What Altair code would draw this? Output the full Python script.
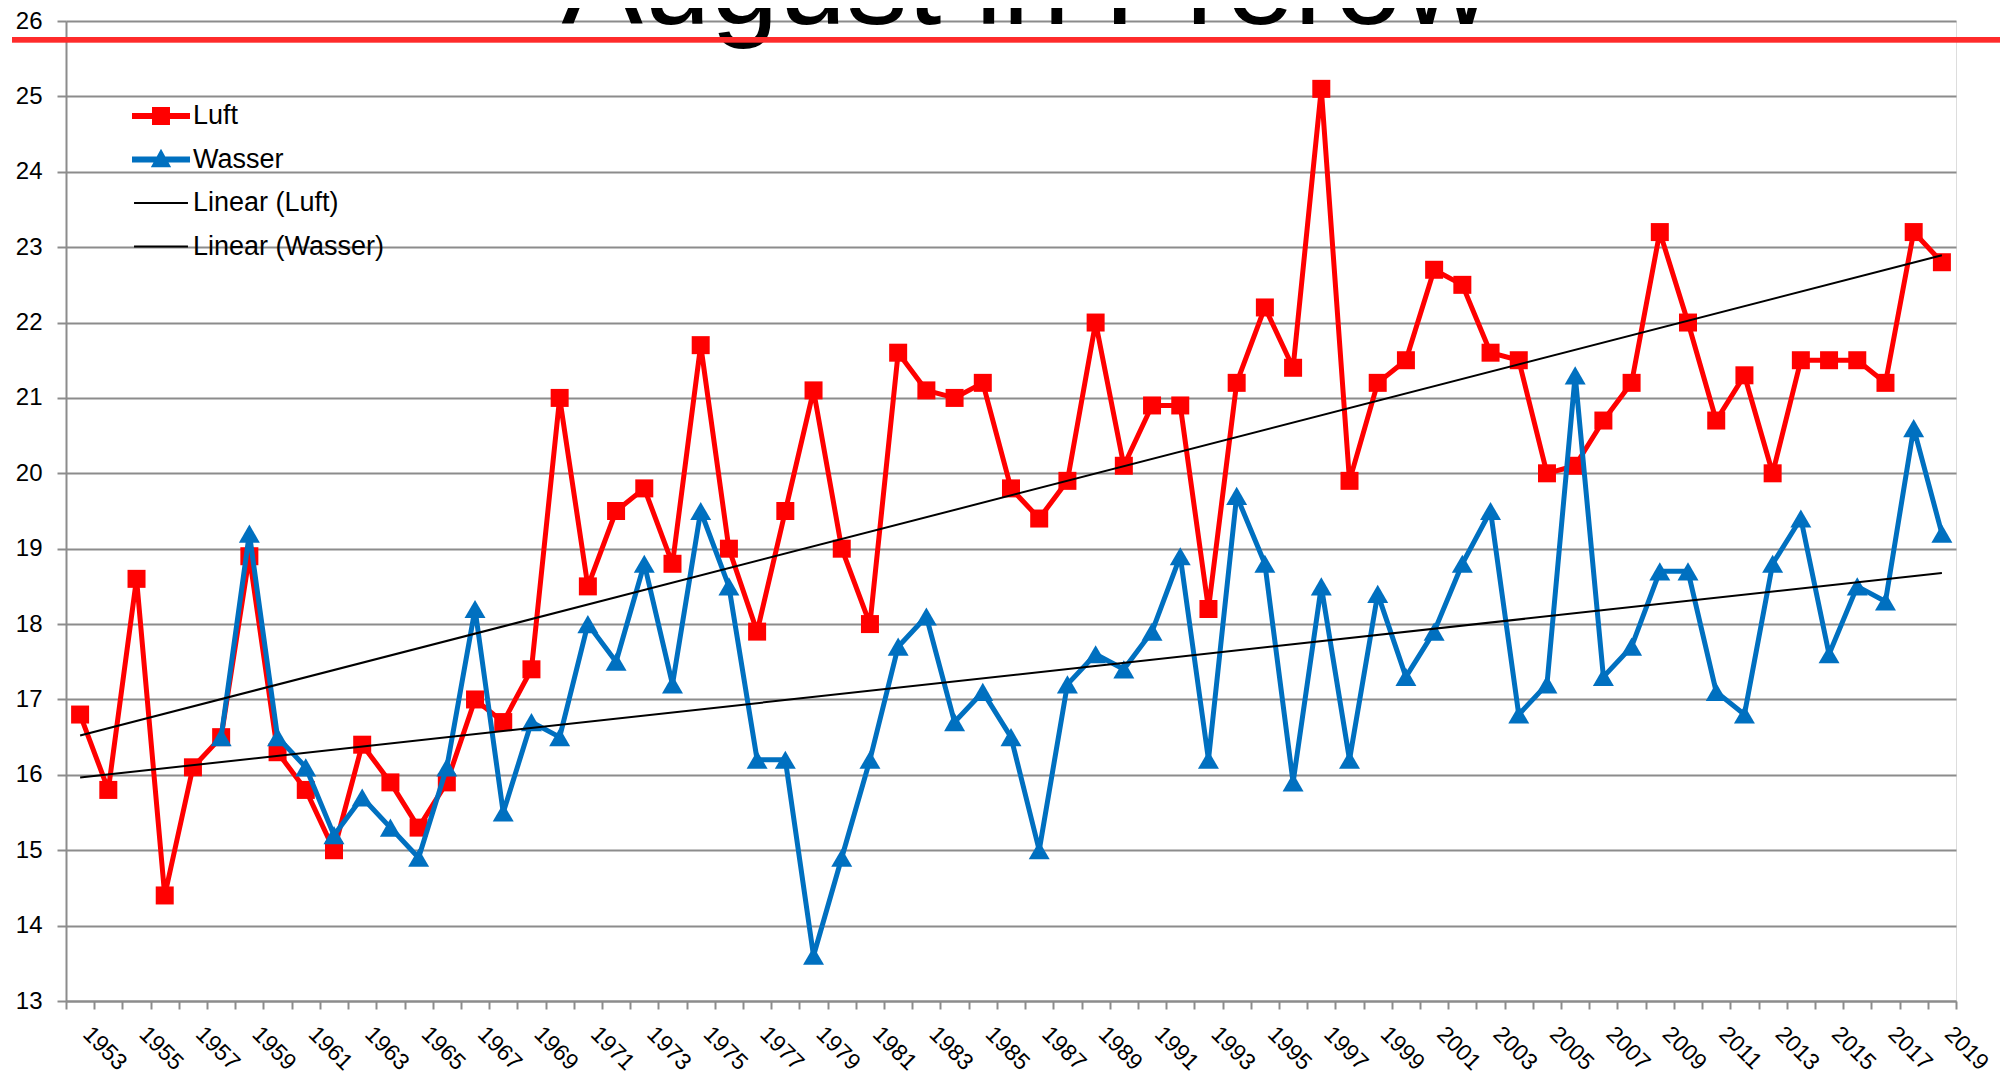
import altair as alt
import pandas as pd

# ---------------- data ----------------
years = list(range(1953, 2020))
luft = [16.8, 15.8, 18.6, 14.4, 16.1, 16.5, 18.9, 16.3, 15.8, 15.0,
        16.4, 15.9, 15.3, 15.9, 17.0, 16.7, 17.4, 21.0, 18.5, 19.5,
        19.8, 18.8, 21.7, 19.0, 17.9, 19.5, 21.1, 19.0, 18.0, 21.6,
        21.1, 21.0, 21.2, 19.8, 19.4, 19.9, 22.0, 20.1, 20.9, 20.9,
        18.2, 21.2, 22.2, 21.4, 25.1, 19.9, 21.2, 21.5, 22.7, 22.5,
        21.6, 21.5, 20.0, 20.1, 20.7, 21.2, 23.2, 22.0, 20.7, 21.3,
        20.0, 21.5, 21.5, 21.5, 21.2, 23.2, 22.8]
wasser_years = list(range(1958, 2020))
wasser = [16.5, 19.2, 16.5, 16.1, 15.2, 15.7, 15.3, 14.9, 16.1, 18.2,
          15.5, 16.7, 16.5, 18.0, 17.5, 18.8, 17.2, 19.5, 18.5, 16.2,
          16.2, 13.6, 14.9, 16.2, 17.7, 18.1, 16.7, 17.1, 16.5, 15.0,
          17.2, 17.6, 17.4, 17.9, 18.9, 16.2, 19.7, 18.8, 15.9, 18.5,
          16.2, 18.4, 17.3, 17.9, 18.8, 19.5, 16.8, 17.2, 21.3, 17.3,
          17.7, 18.7, 18.7, 17.1, 16.8, 18.8, 19.4, 17.6, 18.5, 18.3,
          20.6, 19.2]
legend_labels = ["Luft", "Wasser", "Linear (Luft)", "Linear (Wasser)"]
y_ticks = list(range(13, 27))
title_text = ["August in Prerow"]
title_year = [1986]
title_value = [25.956]
red_line_value = 25.75

# ---------------- styling ----------------
FONT = "Liberation Sans"
RED = "#ff0000"
BLUE = "#0070c0"
GRID = "#8c8c8c"
W, H = 1890, 980

# legend symbols: line + marker, unit coordinates
sym_luft = "M-1,-0.1H1V0.1H-1Z M-0.31,-0.31H0.31V0.31H-0.31Z"
sym_wasser = "M-1,-0.1H1V0.1H-1Z M0,-0.37L0.35,0.27L-0.35,0.27Z"
sym_lin = "M-0.93,-0.035H0.93V0.035H-0.93Z"

df_l = pd.DataFrame({"year": years, "value": luft})
df_w = pd.DataFrame({"year": wasser_years, "value": wasser})
df_leg = pd.DataFrame({"label": legend_labels})
df_title = pd.DataFrame({"year": title_year, "value": title_value, "t": title_text})

xenc = alt.X(
    "year:O",
    scale=alt.Scale(type="band", paddingInner=0, paddingOuter=0, domain=years),
    axis=alt.Axis(
        title=None, tickBand="extent", labelAngle=45, labelAlign="left",
        labelBaseline="middle",
        labelExpr="datum.value % 2 == 1 ? datum.label : ''",
        labelFont=FONT, labelFontSize=23, labelColor="black",
        labelOverlap=False, labelPadding=21, labelOffset=6,
        tickSize=8, tickColor=GRID, tickWidth=2,
        domainColor=GRID, domainWidth=2, grid=False,
    ),
)
yenc = alt.Y(
    "value:Q",
    scale=alt.Scale(domain=[13, 26], nice=False, zero=False),
    axis=alt.Axis(
        title=None, values=y_ticks, format="d",
        grid=True, gridColor=GRID, gridWidth=2,
        domainColor=GRID, domainWidth=2,
        tickColor=GRID, tickWidth=2, tickSize=9,
        labelFont=FONT, labelFontSize=24, labelColor="black", labelPadding=15,
    ),
)

luft_line = alt.Chart(df_l).mark_line(color=RED, strokeWidth=5, strokeJoin="round").encode(x=xenc, y=yenc)
luft_pts = alt.Chart(df_l).mark_point(shape="square", filled=True, color=RED, size=324, opacity=1).encode(x=xenc, y=yenc)
was_line = alt.Chart(df_w).mark_line(color=BLUE, strokeWidth=5, strokeJoin="round").encode(x=xenc, y=yenc)
was_pts = alt.Chart(df_w).mark_point(shape="triangle-up", filled=True, color=BLUE, size=440, opacity=1).encode(x=xenc, y=yenc)

trend_l = alt.Chart(df_l).transform_regression(
    "year", "value", extent=[1953, 2019]
).mark_line(color="black", strokeWidth=2).encode(x=xenc, y=yenc)
trend_w = alt.Chart(df_w).transform_regression(
    "year", "value", extent=[1953, 2019]
).mark_line(color="black", strokeWidth=2).encode(x=xenc, y=yenc)

leg = alt.Legend(
    title=None, orient="none", legendX=66, legendY=66, direction="vertical",
    labelFont=FONT, labelFontSize=27, labelColor="black", labelOffset=3,
    labelLimit=400, symbolSize=3364, symbolStrokeWidth=0, symbolOpacity=1,
    rowPadding=1.5, padding=0,
)
legend_layer = alt.Chart(df_leg).mark_point(filled=True, opacity=0).encode(
    color=alt.Color("label:N", scale=alt.Scale(domain=legend_labels, range=[RED, BLUE, "black", "black"]), legend=leg),
    shape=alt.Shape("label:N", scale=alt.Scale(domain=legend_labels, range=[sym_luft, sym_wasser, sym_lin, sym_lin]), legend=leg),
)

title_layer = alt.Chart(df_title).mark_text(
    font=FONT, fontSize=122, color="black", align="center", baseline="alphabetic", dx=15
).encode(x=xenc, y=yenc, text="t:N")

red_rule = alt.Chart(df_leg).mark_rule(color="#ff2b2b", strokeWidth=5).encode(
    y=alt.datum(red_line_value), x=alt.value(-54), x2=alt.value(1934)
)

chart = alt.layer(
    luft_line, luft_pts, was_line, was_pts, trend_l, trend_w, legend_layer,
    title_layer, red_rule
).properties(
    width=W, height=H,
    autosize=alt.AutoSizeParams(type="none"),
    padding={"left": 58, "top": 13, "right": 47, "bottom": 80},
).configure_view(stroke=None).configure(background="white")

chart.save("out.html", embed_options={"renderer": "svg", "actions": False})
